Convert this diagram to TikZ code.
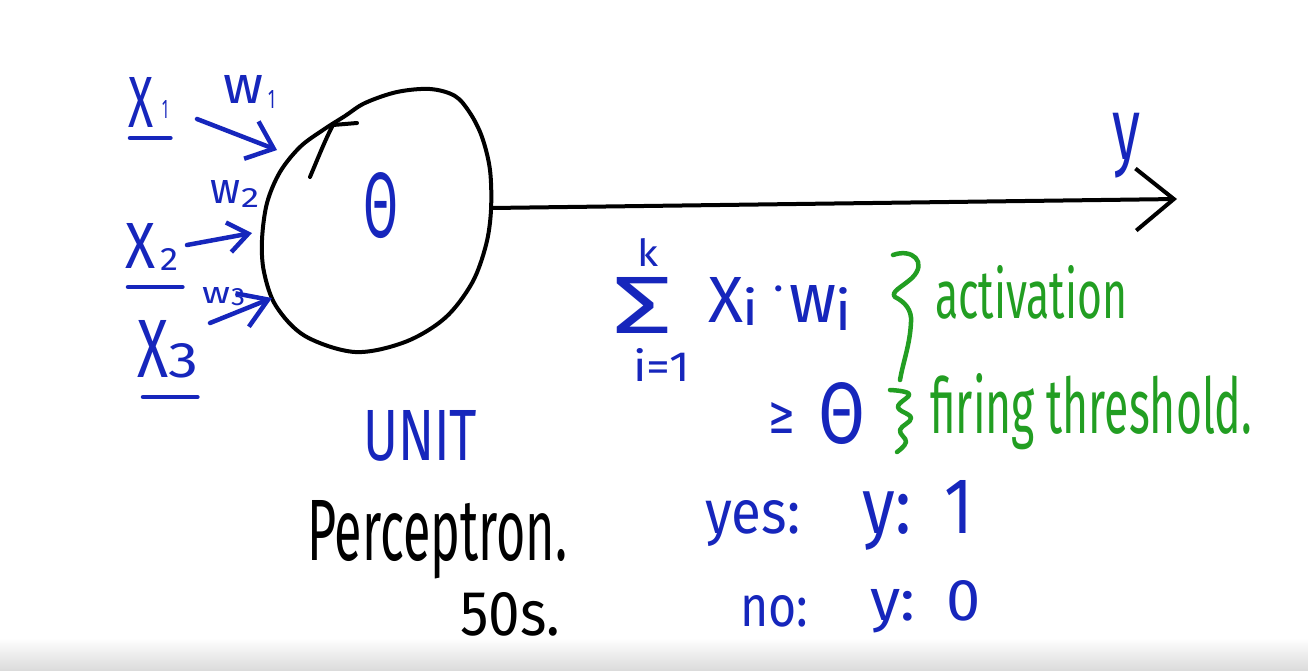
\documentclass[tikz,border=0pt]{standalone}
\usepackage{fontspec}
\setmainfont{Fira Sans}
\newfontfamily\djvsans{DejaVu Sans}
\usepackage{graphicx}
\usetikzlibrary{arrows.meta,calc}
\definecolor{inkblue}{RGB}{22,38,188}
\definecolor{inkgreen}{RGB}{34,158,34}

\begin{document}
\begin{tikzpicture}[x=1pt,y=1pt,yscale=-1,xscale=1,
		ink/.style={line width=4.5pt, line cap=round, line join=round},
		inarrow/.style={ink, inkblue, -{Straight Barb[length=24pt,width=40pt]}},
		outarrow/.style={ink, black, line width=4pt, -{Straight Barb[length=38pt,width=62pt]}}]
		\useasboundingbox (0,0) rectangle (1308,670);
		\fill [white] (0,0) rectangle (1308,670);
		%Shape: bottom band
		\shade [top color=white, bottom color=black!14] (0,638) rectangle (1308,670);
		
		%Shape: Circle
		\draw [ink, line width=4pt] plot [smooth cycle, tension=0.55] coordinates {(430,89) (455,96) (470,113) (482,137) (490,170) (491,210) (486,245) (472,283) (445,318) (405,342) (355,352) (305,336) (276,306) (264,272) (262,240) (267,203) (280,172) (300,147) (323,130) (345,116) (365,103) (397,92)};
		%Straight Lines
		\draw [ink, line width=4pt] (310,177) .. controls (318,158) and (326,138) .. (333,125) -- (357,123);
		
		%Straight Lines (output)
		\coordinate (uout) at (491,208);
		\coordinate (ytip) at (1177,199);
		\draw [outarrow] (uout) -- (ytip);
		
		%Straight Lines (inputs)
		\coordinate (in1) at (197,119);
		\coordinate (to1) at (277,150);
		\coordinate (in2) at (187,245);
		\coordinate (to2) at (252,233);
		\coordinate (in3) at (210,323);
		\coordinate (to3) at (272,298);
		\draw [inarrow] (in1) -- (to1);
		\draw [inarrow, -{Straight Barb[length=20pt,width=30pt]}] (in2) -- (to2);
		\draw [inarrow, -{Straight Barb[length=28pt,width=36pt]}] (in3) -- (to3);
		
		% Text Node
		\draw (128,127) node (x1) [anchor=base west][inner sep=0pt][text=inkblue] {\resizebox{25pt}{50pt}{X}\hspace{9pt}\raisebox{9pt}{\resizebox{6pt}{18pt}{1}}};
		\draw [ink, inkblue] ($(x1.base west)+(2,11)$) -- ($(x1.base east)+(2,11)$);
		% Text Node
		\draw (125,268) node (x2) [anchor=base west][inner sep=0pt][text=inkblue] {\resizebox{30pt}{45pt}{X}\hspace{5pt}\raisebox{-2pt}{\resizebox{18pt}{22pt}{2}}};
		\draw [ink, inkblue] ($(x2.base west)+(3,19)$) -- ($(x2.base east)+(4,19)$);
		% Text Node
		\draw (137,377) node (x3) [anchor=base west][inner sep=0pt][text=inkblue] {\resizebox{31pt}{57pt}{X}\resizebox{30pt}{34pt}{3}};
		\draw [ink, inkblue] ($(x3.base west)+(6,20)$) -- ($(x3.base east)+(-1,20)$);
		% Text Node
		\draw (223,103) node (w1) [anchor=base west][inner sep=0pt][text=inkblue] {\resizebox{40pt}{28pt}{w}\hspace{5pt}\raisebox{-5pt}{\resizebox{7pt}{18pt}{1}}};
		% Text Node
		\draw (210,203) node (w2) [anchor=base west][inner sep=0pt][text=inkblue] {\resizebox{30pt}{23pt}{w}\hspace{1pt}\raisebox{-4pt}{\resizebox{18pt}{19pt}{2}}};
		% Text Node
		\draw (202,303) node (w3) [anchor=base west][inner sep=0pt][text=inkblue] {\resizebox{28pt}{16pt}{w}\hspace{1pt}\raisebox{-2pt}{\resizebox{14pt}{17pt}{3}}};
		% Text Node
		\draw (363,237) node (theta) [anchor=base west][inner sep=0pt][text=inkblue] {\resizebox{35pt}{65pt}{Θ}};
		% Text Node
		\draw (1112,113) node (ylab) [anchor=north west][inner sep=0pt][text=inkblue] {\resizebox*{28pt}{65pt}{y}};
		% Text Node
		\draw (363,460) node (unitlab) [anchor=base west][inner sep=0pt][text=inkblue] {\resizebox{114pt}{50pt}{UNIT}};
		% Text Node
		\draw (307,560) node (perc) [anchor=base west][inner sep=0pt] {\resizebox{260pt}{60pt}{Perceptron.}};
		% Text Node
		\draw (460,635) node (fifties) [anchor=base west][inner sep=0pt] {\resizebox{100pt}{43pt}{50s.}};
		
		% Text Node
		\draw (612,333) node (sigma) [anchor=base west][inner sep=0pt][text=inkblue] {\resizebox{60pt}{56pt}{Σ}};
		% Text Node
		\draw (637,266) node (sumk) [anchor=base west][inner sep=0pt][text=inkblue] {\resizebox{21pt}{28pt}{k}};
		% Text Node
		\draw (633,381) node (sumi) [anchor=base west][inner sep=0pt][text=inkblue] {\resizebox{57pt}{33pt}{i=1}};
		% Text Node
		\draw (708,322) node (prod) [anchor=base west][inner sep=0pt][text=inkblue] {\resizebox{35pt}{45pt}{X}\hspace{-1pt}\raisebox{-3pt}{\resizebox{16pt}{38pt}{i}}\hspace{15pt}\raisebox{20pt}{\fontsize{44}{44}\selectfont ·}\hspace{6pt}\resizebox{47pt}{37pt}{w}\hspace{-1pt}\raisebox{-8pt}{\resizebox{16pt}{43pt}{i}}};
		% Text Node
		\draw (768,443) node (geq) [anchor=base west][inner sep=0pt][text=inkblue] {\raisebox{10pt}{\resizebox{27pt}{31pt}{\djvsans ≥}}\hspace{23pt}\resizebox{47pt}{61pt}{Θ}};
		
		%Shape: braces
		\draw [ink, inkgreen] (893,255) .. controls (912,248) and (928,262) .. (912,278) .. controls (902,287) and (890,292) .. (895,297) .. controls (905,302) and (912,310) .. (911,322) .. controls (910,345) and (903,362) .. (900,380);
		\draw [ink, inkgreen] plot [smooth, tension=0.7] coordinates {(890,390) (909,394) (898,407) (911,418) (900,430) (906,442) (897,452)};
		% Text Node
		\draw (935,318) node (act) [anchor=base west][inner sep=0pt][text=inkgreen] {\resizebox{192pt}{53pt}{activation}};
		% Text Node
		\draw (930,433) node (fire) [anchor=base west][inner sep=0pt][text=inkgreen] {\resizebox{322pt}{60pt}{firing threshold.}};
		
		% Text Node
		\draw (705,533) node (yes) [anchor=base west][inner sep=0pt][text=inkblue] {\resizebox{95pt}{33pt}{yes:}};
		% Text Node
		\draw (862,533) node (yone) [anchor=base west][inner sep=0pt][text=inkblue] {\resizebox{111pt}{53pt}{y:\hspace{0.5em}1}};
		% Text Node
		\draw (740,626) node (no) [anchor=base west][inner sep=0pt][text=inkblue] {\resizebox{68pt}{31pt}{no:}};
		% Text Node
		\draw (870,620) node (yzero) [anchor=base west][inner sep=0pt][text=inkblue] {\resizebox{110pt}{40pt}{y:\hspace{0.5em}0}};
	\end{tikzpicture}
\end{document}
